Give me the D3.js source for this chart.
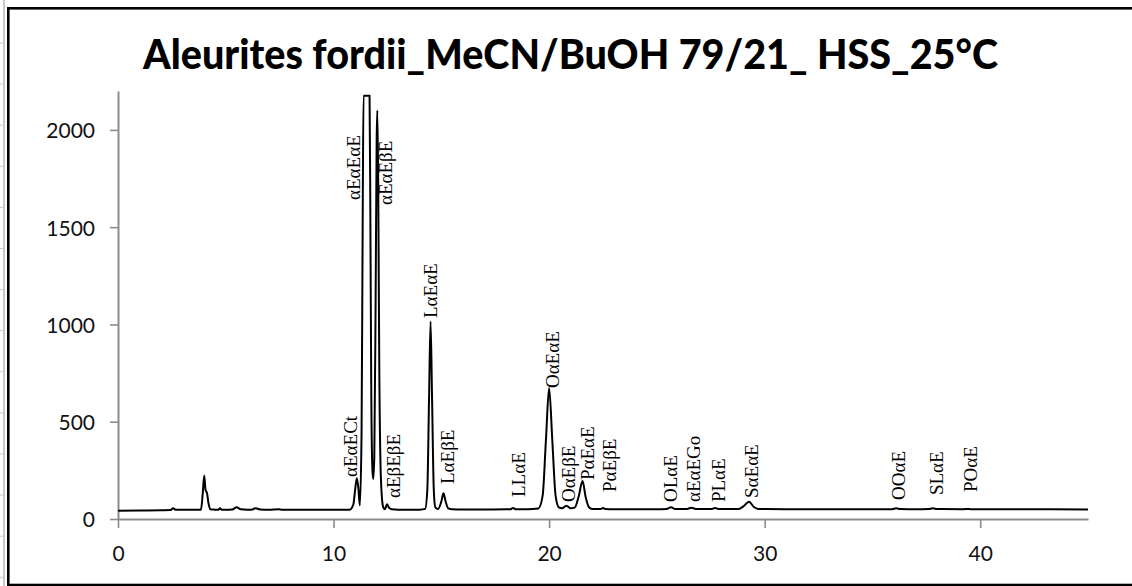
<!DOCTYPE html>
<html>
<head>
<meta charset="utf-8">
<script src="https://cdn.jsdelivr.net/npm/d3@7/dist/d3.min.js"></script>
<style>
  html, body { margin: 0; padding: 0; background: #fff; }
  svg { display: block; }
</style>
</head>
<body>
<svg id="chart" width="1132" height="586"></svg>
<script>
// ---------- DATA ----------
const titleText = "Aleurites fordii_MeCN/BuOH 79/21_ HSS_25°C";

const xTicks = [0, 10, 20, 30, 40];
const yTicks = [0, 500, 1000, 1500, 2000];

// chromatogram: retention time (min) and detector signal
const times = [
  0, 1, 2, 2.45, 2.55, 2.7, 3.5, 3.85, 3.93, 4.0, 4.06, 4.13, 4.2, 4.28, 4.5, 4.65, 4.73, 4.82,
  5.0, 5.3, 5.5, 5.7, 6.0, 6.25, 6.35, 6.45, 6.6, 7.0, 7.47, 7.6, 8, 9, 10, 10.75, 10.92, 11.0,
  11.08, 11.15, 11.22, 11.3, 11.35, 11.39, 11.67, 11.71, 11.75, 11.8, 11.84, 11.89, 11.95, 12.0,
  12.03, 12.07, 12.12, 12.2, 12.3, 12.38, 12.48, 12.56, 12.7, 13.0, 13.5, 14.0, 14.25, 14.35,
  14.43, 14.5, 14.57, 14.65, 14.72, 14.85, 15.0, 15.1, 15.2, 15.32, 15.5, 16, 17, 18, 18.2,
  18.33, 18.45, 19.0, 19.5, 19.7, 19.85, 20.0, 20.15, 20.3, 20.45, 20.6, 20.8, 21.0, 21.2,
  21.38, 21.55, 21.7, 21.85, 22.0, 22.4, 22.5, 22.6, 23, 24, 25, 25.45, 25.65, 25.85, 26.4,
  26.6, 26.8, 27.5, 27.7, 27.9, 28.8, 29.05, 29.27, 29.5, 29.7, 30, 31, 32, 33, 34, 35, 35.9,
  36.1, 36.3, 37, 37.6, 37.8, 38.0, 39.2, 39.4, 39.6, 40, 42, 45
];
const signal = [
  43, 44, 45, 46, 55, 47, 47, 48, 130, 223, 150, 133, 80, 50, 48, 47, 55, 48,
  48, 49, 60, 50, 48, 49, 55, 54, 49, 48, 50, 48, 48, 48, 48, 48, 75, 150,
  210, 160, 70, 450, 1500, 2175, 2175, 1500, 650, 260, 205, 320, 1100, 1950,
  2100, 1750, 800, 200, 62, 50, 76, 60, 50, 48, 48, 48, 52, 150,
  620, 1015, 620, 150, 60, 52, 90, 132, 90, 55, 50, 49, 49, 50, 50,
  57, 50, 50, 54, 120, 400, 673, 400, 120, 60, 55, 68, 55, 60,
  120, 195, 110, 60, 52, 52, 56, 52, 50, 50, 50, 52, 60, 52, 52,
  58, 52, 51, 56, 51, 52, 68, 89, 62, 52, 51, 50, 50, 50, 50, 50, 50,
  55, 51, 50, 51, 55, 51, 50, 52, 50, 50, 50, 49
];

// peak annotations: label, retention time of label baseline, signal level where text starts
const peakLabels = ["αEαEαE", "αEαEβE", "αEαECt", "αEβEβE", "LαEαE", "LαEβE", "LLαE",
  "OαEαE", "OαEβE", "PαEαE", "PαEβE", "OLαE", "αEαEGo", "PLαE", "SαEαE", "OOαE", "SLαE", "POαE"];
const labelTimes = [11.23, 12.73, 11.11, 13.06, 14.82, 15.61, 18.86,
  20.48, 21.18, 22.10, 23.08, 25.91, 26.98, 28.14, 29.67, 36.49, 38.25, 39.87];
const labelLevels = [1640, 1614, 216, 108, 1033, 180, 113,
  673, 87, 200, 139, 87, 87, 87, 108, 98, 123, 139];

// ---------- LAYOUT ----------
const svg = d3.select("#chart");
const plot = { left: 118, right: 1088, top: 91, bottom: 519 };

const x = d3.scaleLinear().domain([0, 45]).range([plot.left, plot.right]);
const y = d3.scaleLinear().domain([0, 2200]).range([plot.bottom, plot.top]);

// spreadsheet remnants at far left
const rows = d3.range(14).map(i => 43 + i * 41.1);
svg.append("line").attr("x1", 4).attr("x2", 4).attr("y1", 0).attr("y2", 586)
  .attr("stroke", "#c8c8c8").attr("stroke-width", 2);
svg.selectAll("line.row").data(rows).enter().append("line").attr("class", "row")
  .attr("x1", 0).attr("x2", 5).attr("y1", d => d).attr("y2", d => d)
  .attr("stroke", "#c8c8c8").attr("stroke-width", 1);

// chart frame
svg.append("rect").attr("x", 8.3).attr("y", 8.3).attr("width", 1140).attr("height", 576.7)
  .attr("fill", "none").attr("stroke", "#000").attr("stroke-width", 2.6);

// title (condensed to reference width, taller glyphs like the original)
svg.append("text")
  .attr("x", 570.5).attr("y", 69)
  .attr("text-anchor", "middle")
  .attr("font-family", "Lato, 'Open Sans', sans-serif")
  .attr("font-weight", 900)
  .attr("font-size", 41)
  .attr("textLength", 855)
  .attr("lengthAdjust", "spacingAndGlyphs")
  .attr("fill", "#000")
  .text(titleText);

// axes
const axisColor = "#8c8c8c";
const tickFont = "Lato, 'Open Sans', sans-serif";
const fmt = d3.format("d");

const gx = svg.append("g").attr("transform", `translate(0,${plot.bottom})`)
  .call(d3.axisBottom(x).tickValues(xTicks).tickFormat(fmt).tickSize(9).tickPadding(18).tickSizeOuter(0));
const gy = svg.append("g").attr("transform", `translate(${plot.left},0)`)
  .call(d3.axisLeft(y).tickValues(yTicks).tickFormat(fmt).tickSize(8).tickPadding(15).tickSizeOuter(0));

[gx, gy].forEach(g => {
  g.select(".domain").attr("stroke", axisColor).attr("stroke-width", 2);
  g.selectAll(".tick line").attr("stroke", axisColor).attr("stroke-width", 1.6);
  g.selectAll(".tick text").attr("fill", "#111")
    .attr("font-family", tickFont).attr("font-size", 21);
});
gy.selectAll(".tick text").attr("dy", "0.38em");

// chromatogram line
const pts = times.map((t, i) => [t, signal[i]]);
svg.append("path")
  .datum(pts)
  .attr("fill", "none")
  .attr("stroke", "#000")
  .attr("stroke-width", 2)
  .attr("stroke-linejoin", "round")
  .attr("d", d3.line().x(d => x(d[0])).y(d => y(d[1])).curve(d3.curveMonotoneX));

// peak labels (rotated, reading bottom to top)
svg.selectAll("text.peak").data(peakLabels).enter().append("text")
  .attr("class", "peak")
  .attr("transform", (d, i) => `translate(${x(labelTimes[i])},${y(labelLevels[i])}) rotate(-90)`)
  .attr("font-family", "'Liberation Serif', 'Times New Roman', serif")
  .attr("font-size", 19)
  .attr("fill", "#000")
  .text(d => d);
</script>
</body>
</html>
